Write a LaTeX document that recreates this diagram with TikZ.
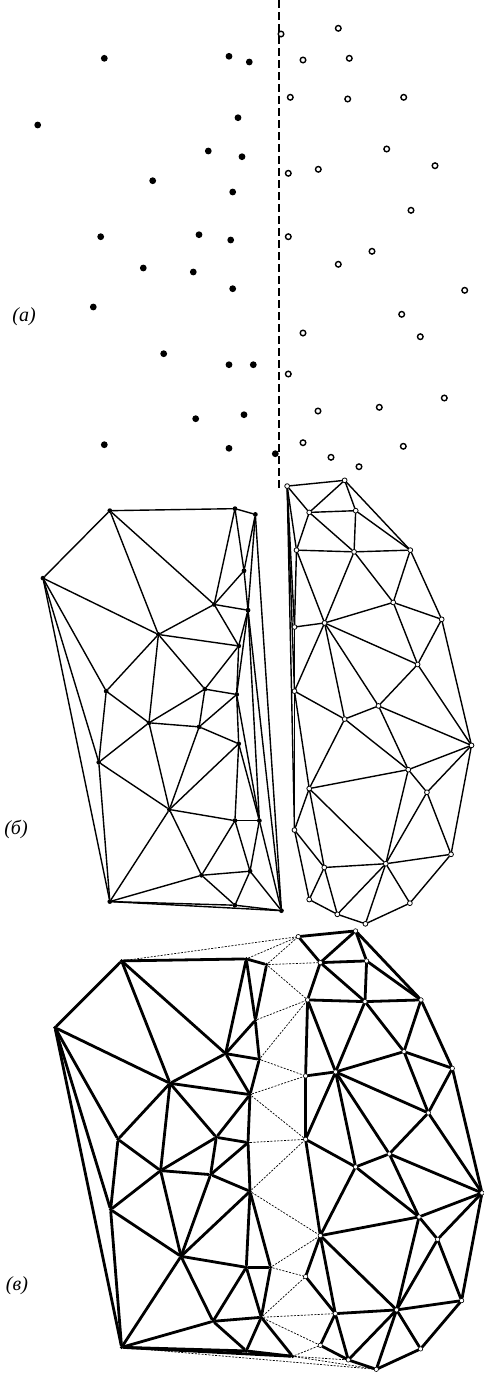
\documentclass[tikz,border=0pt]{standalone}
\usepackage{fontspec}
\setmainfont{Liberation Serif}
\pgfdeclarelayer{bg}
\pgfsetlayers{bg,main}
\tikzset{
 fdotA/.style={circle,fill=black,inner sep=0pt,minimum size=6.8pt},
 odotA/.style={circle,draw=black,fill=white,line width=1.4pt,inner sep=0pt,minimum size=5.6pt},
 fdotB/.style={circle,fill=black,inner sep=0pt,minimum size=4.8pt},
 odotB/.style={circle,draw=black,fill=white,line width=0.8pt,inner sep=0pt,minimum size=4.8pt},
 fdotC/.style={circle,fill=black,inner sep=0pt,minimum size=3.8pt},
 odotC/.style={circle,draw=black,fill=white,line width=0.6pt,inner sep=0pt,minimum size=4.4pt},
 edgeB/.style={line width=1.4pt,line cap=round},
 edgeC/.style={line width=2.8pt,line cap=round},
 mergeC/.style={line width=0.7pt,dash pattern=on 2pt off 1.4pt},
 sepline/.style={line width=1.8pt,dash pattern=on 8pt off 4pt},
 lbl/.style={font=\fontsize{20}{24}\selectfont\itshape,inner sep=0pt}
}
\def\leftpts{L1/104.3/58.3, L2/229/56.3, L3/249.3/62, L4/37.7/125, L5/238/117.7,
 L6/208.3/151, L7/242/156.7, L8/152.7/180.7, L9/232.7/192, L10/100.7/236.7,
 L11/199/234.7, L12/230.7/240, L13/143.3/268, L14/193.3/272, L15/232.7/288.7,
 L16/93.3/307, L17/163.7/353.7, L18/229/364.7, L19/253.3/364.7, L20/195.7/418.7,
 L21/244/414.7, L22/104.3/444.7, L23/229/448.3, L24/275.3/453.7}
\def\rightpts{R1/281/34, R2/338.3/28.3, R3/303/60, R4/349.3/58.3, R5/290.3/97.3,
 R6/347.7/99, R7/403.7/97.3, R8/386.7/149, R9/435/165.7, R10/288.3/173.3,
 R11/318.3/169.3, R12/411/210.3, R13/288.3/236.7, R14/372/251.3, R15/338.3/264.3,
 R16/464.7/290.3, R17/401.7/314.3, R18/303/333, R19/420.3/336.7, R20/288.3/374,
 R21/444.3/398, R22/318/411, R23/379.3/407.3, R24/303/442.7, R25/403.3/446.3,
 R26/331/457.3, R27/359/466.7}
\def\leftkeep{L1/L2, L2/L3, L1/L4, L1/L8, L1/L6, L2/L6, L2/L5, L3/L5, L5/L6, L5/L7,
 L6/L7, L6/L8, L6/L9, L8/L9, L4/L8, L4/L10, L8/L10, L8/L11, L8/L13, L9/L11,
 L11/L12, L9/L12, L7/L9, L12/L15, L15/L19, L15/L18, L18/L19, L4/L16, L4/L22, L10/L16,
 L10/L13, L11/L13, L11/L14, L12/L14, L13/L14, L14/L15, L14/L17, L13/L16, L13/L17, L15/L17,
 L16/L17, L16/L22, L17/L18, L17/L20, L17/L22, L18/L20, L18/L21, L19/L21, L20/L21, L20/L23,
 L20/L22, L21/L23, L21/L24, L22/L23, L22/L24, L23/L24}
\def\leftseam{L3/L7, L3/L24, L7/L24, L7/L19, L7/L12, L12/L19, L19/L24}
\def\rightkeep{R1/R2, R1/R3, R2/R3, R2/R4, R2/R7, R3/R4, R3/R5, R3/R6, R4/R6, R4/R7,
 R5/R6, R6/R7, R5/R11, R6/R11, R6/R8, R7/R8, R7/R9, R8/R11, R8/R9, R8/R12,
 R9/R12, R9/R16, R10/R11, R11/R12, R11/R13, R11/R15, R11/R14, R12/R14, R12/R16, R5/R10,
 R10/R13, R13/R15, R13/R18, R14/R15, R14/R16, R14/R17, R15/R17, R15/R18, R16/R17, R16/R19,
 R16/R21, R17/R18, R17/R19, R17/R23, R18/R20, R18/R22, R18/R23, R19/R21, R19/R23, R20/R22,
 R21/R23, R21/R25, R22/R23, R22/R24, R22/R26, R23/R26, R23/R27, R23/R25, R24/R26, R26/R27,
 R25/R27}
\def\rightseam{R1/R5, R1/R10, R1/R13, R1/R20, R13/R20, R20/R24}
\def\crossedges{L1/R1, L2/R1, L3/R1, L3/R3, L3/R5, L5/R5, L7/R5, L7/R10, L9/R10, L9/R13,
 L12/R13, L15/R13, L15/R18, L19/R18, L19/R20, L21/R20, L21/R22, L21/R24, L24/R24, L24/R26,
 L24/R27, L22/R27}
\begin{document}
\begin{tikzpicture}[x=1pt,y=-1pt]
\useasboundingbox (0,0) rectangle (483,1374);
% panel (a)
\coordinate (sepTop) at (278.7,0);
\coordinate (sepBot) at (278.7,489);
\draw[sepline] (sepTop) -- (sepBot);
\foreach \n/\x/\y in \leftpts {\node[fdotA] (a\n) at (\x,\y) {};}
\foreach \n/\x/\y in \rightpts {\node[odotA] (a\n) at (\x,\y) {};}
\node[lbl] (la) at (24,317) {(а)};
% panel (b)
\begin{scope}[shift={(5.17,451.7)},xscale=1.0035,yscale=1.0116]
\foreach \n/\x/\y in \leftpts {\node[fdotB] (b\n) at (\x,\y) {};}
\foreach \n/\x/\y in \rightpts {\node[odotB] (b\n) at (\x,\y) {};}
\end{scope}
\begin{pgfonlayer}{bg}
\foreach \u/\v in \leftkeep {\draw[edgeB] (b\u) -- (b\v);}
\foreach \u/\v in \leftseam {\draw[edgeB] (b\u) -- (b\v);}
\foreach \u/\v in \rightkeep {\draw[edgeB] (b\u) -- (b\v);}
\foreach \u/\v in \rightseam {\draw[edgeB] (b\u) -- (b\v);}
\end{pgfonlayer}
\node[lbl] (lb) at (16,829) {(б)};
% panel (c)
\begin{scope}[shift={(17.3,902.6)}]
\foreach \n/\x/\y in \leftpts {\node[fdotC] (c\n) at (\x,\y) {};}
\foreach \n/\x/\y in \rightpts {\node[odotC] (c\n) at (\x,\y) {};}
\end{scope}
\begin{pgfonlayer}{bg}
\foreach \u/\v in \crossedges {\draw[mergeC] (c\u) -- (c\v);}
\foreach \u/\v in \leftkeep {\draw[edgeC] (c\u) -- (c\v);}
\foreach \u/\v in \rightkeep {\draw[edgeC] (c\u) -- (c\v);}
\end{pgfonlayer}
\node[lbl] (lc) at (17,1286) {(в)};
\end{tikzpicture}
\end{document}
